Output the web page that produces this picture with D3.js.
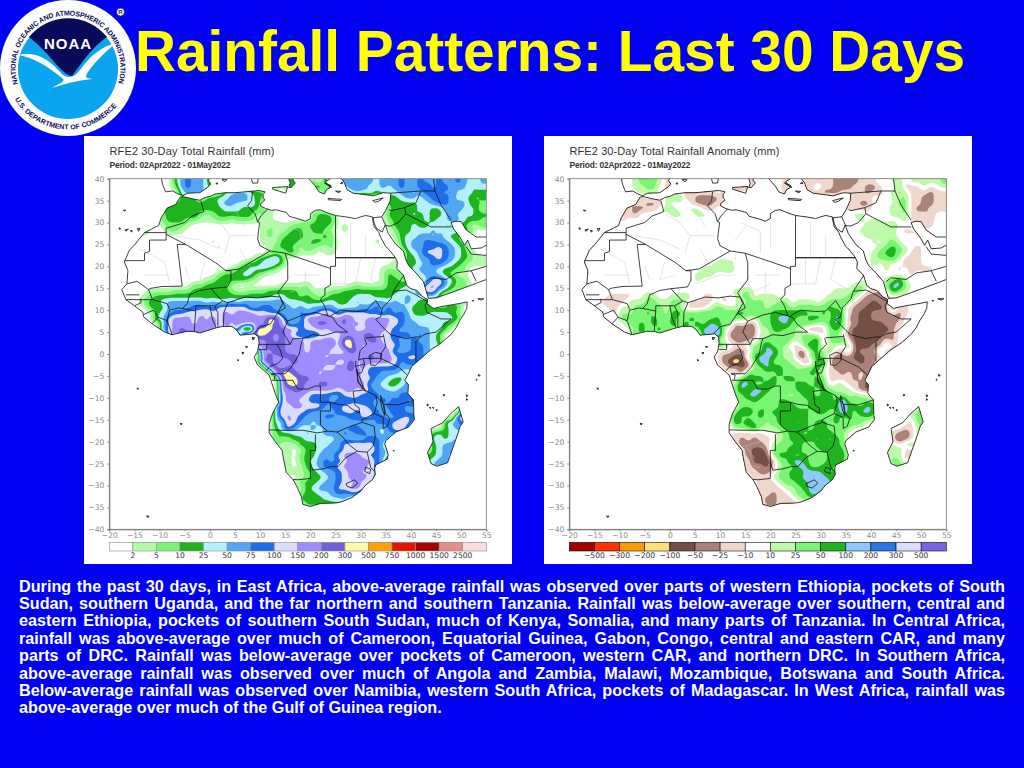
<!DOCTYPE html>
<html>
<head>
<meta charset="utf-8">
<script src="https://cdn.jsdelivr.net/npm/d3@7"></script>
<style>
html,body{margin:0;padding:0;background:#0000f5;}
svg{display:block;}
text{font-family:"Liberation Sans",Arial,sans-serif;}
</style>
</head>
<body>
<svg id="page" width="1024" height="768"></svg>
<script>
// tick labels
var lonTicks = [-20,-15,-10,-5,0,5,10,15,20,25,30,35,40,45,50,55];
var latTicks = [40,35,30,25,20,15,10,5,0,-5,-10,-15,-20,-25,-30,-35,-40];

// legends
var rainColors = ["#ffffff","#b4faaa","#78f573","#1eb41e","#b4f0fa","#50a5f5","#1e6eeb","#dcdcff","#a08cff","#7060dc","#fffaaa","#ffa000","#e11400","#a50000","#e68c8c","#ffdcdc"];
var rainLabels = ["2","5","10","25","50","75","100","150","200","300","500","750","1000","1500","2500"];
var anomColors = ["#a50000","#ff3200","#ff9b00","#ffe178","#735046","#aa8278","#f0d7cd","#ffffff","#befaaa","#78f573","#1eb41e","#8cc8fa","#2878eb","#dcdcff","#7864e6"];
var anomLabels = ["-500","-300","-200","-100","-50","-25","-10","10","25","50","100","200","300","500"];

// rainfall class per 1.25 degree cell. north to south, spaces every 5 deg of lon
// . below 2, 1-9 then a are the legend boxes
var rainRows = [
".... .... ..35 6554 .... .... ..2. 33.. 2.44 4555 5545 5565 5655 6556 5445",
".... .... ..25 6554 3... .... ..2. 33.. 34.4 5455 5445 4565 5675 6655 5344",
".... .... ...4 5554 ..44 5543 3... .... ..34 4445 4534 4455 4566 6564 4433",
".... .... ...3 33.2 3445 6543 23.. .... .... .... .... 3345 5456 6654 4323",
".... .... .333 3334 2455 4453 2... .... .... .... .... 3333 3445 6655 5332",
"..3. .... 3324 3233 3344 4333 12.. .... .... .... .... 2333 3443 3556 4431",
".... .... 2333 3421 2333 3331 21.. .... 2332 .... .... 3333 4343 3464 3433",
".... .... 2333 2211 1221 2221 .1.. ..1. 2333 .... .... 2333 3343 4465 4332",
".... .... 1222 1... .... .... 1121 1223 3332 .1.. .... 1333 4334 4333 3113",
"..33 33.. .221 .... .... .... 1211 2331 3321 .1.. .... .233 4445 4544 33..",
".... .... .... .... .... .... 1212 3332 2232 .... ...1 .134 4554 5433",
".... .... .... .... 1... .... 1113 3322 3322 .... ..1. ..34 5566 5543 2...",
".... .... .... .... .1.. .... .123 3213 2112 ..1. ...1 ..24 5566 7654 3...",
".... .... .... .... .... .... .121 3311 1.11 .... .... ...3 4577 7654 32..",
".... .... .... .... .... ...2 3453 .... .... .... .... 1.13 3556 7654 3211",
".... .... .... .... .... .233 4543 .... .... .... .... .123 3456 6543 2111",
".... .... .... .... ...1 3344 432. .... .... .... ...1 2123 4555 4332 2...",
".... .... .... .... .233 3442 1... .... .... .... ...1 3222 3455 4321 1...",
".... .... .... ...1 2333 3321 .... .... ...1 .... ...1 3322 3347 8542 2...",
".... .... .... .223 3331 .... ...1 1112 .... ..12 1111 3334 3478 7532 21..",
".... ..11 1122 2333 3232 1122 2333 3322 1112 2333 3333 3344 4778 4322 21..",
".... .123 3333 3333 3333 3333 3344 3323 2123 3334 4433 3445 4444 3...",
".... .233 4555 5554 5445 4555 5555 4443 3344 3345 4455 4545 4332 3322 1...",
".... ..33 3555 5666 5777 7755 6655 5454 5555 4444 5565 6554 3332 2233",
".... ...3 4566 7778 7787 8887 7665 5565 5787 5777 7665 6565 3334 4432",
".... ...4 4788 8787 8788 8898 8aa7 5558 9888 8987 7888 8765 4445 4443",
".... .... 4788 8788 8787 8878 8a98 5567 8998 8978 7989 7765 5444 433.",
".... .... 5789 8987 8778 7..a aa99 8867 7878 8887 7888 7655 5554 43..",
".... .... .889 9888 8... .aaa a989 8655 5677 7888 9987 7566 5654 3...",
".... .... .... .... .... ...8 8989 8987 8888 7aa7 8997 7655 6554 3...",
".... .... .... .... .... ..99 8999 8887 8788 7aa8 7888 7755 6654 4...",
".... .... .... .... .... .9.. 9899 8887 8887 77a8 8788 8555 6654 3...",
".... .... .... .... .... .... 8989 9988 8878 8878 7a88 8767 7655",
".... .... .... .... .... .9.. 9987 8988 8888 77a7 8888 8756 6655 4...",
".... .... .... .... .... .... .998 9889 8877 88a7 8666 6655 5677",
".... .... .... .... .... .... ..9a a988 8788 8888 7665 5543 5576",
".... .... .... .... .... .... ...9 aa99 8888 8788 7755 4335 5677",
".... .... .... .... .... .... ...8 aa98 8998 8888 8554 3345 5876",
".... 9... .... .... .... .... ...8 8998 8888 7887 8655 4455 5687",
".... .... .... .... .... .... ...7 8887 6665 5777 6665 6566 5666 .... ....",
".... .... .... .... .... .... ...7 8877 5665 6566 5656 5657 7655 .9.. .9..",
".... .... .... .... .... .... ..47 7887 8756 6777 7655 6665 6.99 9... 89..",
".... .... .... .... .... .... ..48 7776 5555 6776 7765 5765 5655 .... 98..",
".... .... .... .... .... .... ..47 8765 5566 5566 7756 5567 6555 ...7 889.",
".... .... ...3 .... .... .... ..44 8755 4554 5555 5466 6787 5... .355 77..",
".... .... .... .... .... .... ..35 7544 5455 5566 5554 6776 .... .345 56..",
".... .... .... .... .... .... .123 3445 4455 5656 6554 5666 ...3 4344 45..",
".... .... .... .... .... .... ..32 2334 4444 5554 5665 6... ...4 4345",
".... .... .... .... .... .... ..21 1133 3445 5778 7765 .... ...3 4555",
".... .... .... .... .... .... ...2 1.13 3455 5777 7865 4... ...3 4555",
".... .... .... .... .... .... ...1 1.23 3555 7888 7665 4... ..33 4544",
".... .... .... .... .... .... ...1 1.23 4565 6788 8865 .... ..34 5544",
".... .... .... .... .... .... .... 1.13 4566 7888 8765 .... ..45 5565",
".... .... .... .... .... .... .... 1112 3455 6788 7865",
".... .... .... .... .... .... .... ..12 3345 6788 8764",
".... .... .... .... .... .... .... .123 3455 6778 7763",
".... .... .... .... .... .... .... ..13 4555 7788 7533",
".... .... .... .... .... .... .... ..23 3445 6566 33..",
".... .... .... .... .... .... .... ..33 2344 4533",
".... .... .... .... .... .... .... ...3 3323 33..",
"",
".... ..9.",
"",
""
];

// anomaly class per cell, same grid
// o orange, y yellow, d b p browns, . near normal, l g k greens, c u blues
var anomRows = [
".... .... ..lg gglp .... .... ..bb pp.. ..pp lppp ppbb bbpp plpl gpll lllg",
".... .... ..ll gg.p p... .... ..pb pp.. ..bp pbpl ppbb bppb bplp gppp lp.l",
".... .... ...l ll.. ..pp ppp. p... .... ..pp pppp bbbp pppb pp.l glpp pbpp",
".... .... ...p ..pl lgpp bbbb .... .... .... .... .... bppp ..pl lgpp bbpp",
".... .... .bpp bbpl ..lp bbbp p... .... .... .... .... ppbb .pl. ggpp bbpp",
".... .... ppbb pp.l l..l lpp. .... .... .... .... .... pppp .l.l lgpb bppp",
".... .... ppb. ..l. ll.. ll.. .... .... .... .... .... .ll. ...l lgpp pb..",
".... .... p... .... .... .... .... .... .... .... .... ..l. l... .lpp pp..",
".... .... .... .... .... .... .... .... .... .... .... ...l lglg ..lp pp..",
".... .... .... .... .... .... .... .... .... .... .... ..ll gl.l .pp.",
".... .... .... .... .... .... .... .... .... .... .... ...l .lgl ...p",
".... .... .... .... .... .... .... .... .... .... .... .... l.lg lp..",
".... .... .... .... .... .... .... .... .... .... .... .... .lgk gl.p",
".... .... .... .... .... .... .... .... .... .... .... .... lgkk glpp",
".... .... .... .... .... .... ..l. .... .... .... .... .... lggk lppp",
".... .... .... .... .... ...l gl.. .... .... .... .... .... l.l. .ppp",
".... .... .... .... .... .lll lg.. .... .... .... .... ...l ..l. p.pp pp..",
".... .... .... .... .... lll. .... .... .... .... .... ...l .... ..pl",
".... .... .... .... ..l. l... .... .... .... .... .... .... ..lg cl..",
".... .... .... .... .... .... .... .... .... .... .... .lgl ..gc cg..",
".... .... .... .... .... .... ..ll g... .... .... ..ll lggp pb.c gl..",
".... ..pp pp.. gl.. llg. lpp. pl.g g.ll l... .... .lll ggpb bbb.",
".... .ppp plll ggll gglp pppl ppl. gggl lgg. lll. lggg gpbb dbbp",
".... ..pp l.gg gggl ggpp pplg gl.g kggl gggl gggg gkgg pbbd ddbc pp..",
".... ...p glgg kggl kkgg gkgg lgkk gggg kkkc kkgg kgcg pbdd bbbp bp..",
".... .... gggg gkgg kggk gggk gkgg llgg kcck ggkk ggck bbdd bbbb b...",
".... .... .ggk gkgg kgkg kgck ggbp bbgg kkcg gkgl lkcg pbdd ddbb p...",
".... .... ..gk ggkg gkgk gccu gpbb bbll kkgg lpbb pgkg bddd dddb",
".... .... ..kg kkg. .... .ccu gbbp bbll gggg lggl pggp bddd ddbb",
".... .... .... .... .... ...l lpbb bpgg ggkl lggc pggc pddd dbpb",
".... .... .... .... .... ...k glpp lggc gglp pgck pllp gddd bbgp",
".... .... .... .... .... .k.. ppbb pggc cgll bbgk lgpp ldbb bgbp",
".... .... .... .... .... .... bbdd lkcc kgll bbgk gpbb bddb bp..",
".... .... .... .... .... .... bdod bgcc gggl lbpc cpdb bbdb b...",
".... .... .... .... .... .... .bpd bggc kkgg lggc lpbb bbbb p...",
".... .... .... .... .... .... ..pb kggg gkgg ggkg lppb pbpb p...",
".... .... .... .... .... .... ...k kkkg kgkk gggk gppp pbpd d...",
".... .... .... .... .... .... ..gc cggk kggg kkgk kpll ppbd d...",
".... k... .... .... .... .... ..gc gcck ggkg kkkg kgll lpbd b...",
".... .... .... .... .... .... ..gg cckg ggll gkkg kkgg lgll bp.. .k.. .k..",
".... .... .... .... .... .... ..gg gkgg lkkg ggkk kkgu gggg g... .... .l..",
".... .... .... .... .... .... ...g gggk lkkk ggkk kkku kkgc k.ck c... gk..",
".... .... .... .... .... .... ..gc cgkg kkkk kkgk kggu kgcc k... ...g gk..",
".... .... .... .... .... .... ..cg ggkg gkkk kkgg ggkg kggk g... ..lg kk..",
".... .... ...b .... .... .... ..cg cggl gkkk gkgk kgkg gkg. .... ..pg gk..",
".... .... .... .... .... .... ..lg gclg lgkk kkgk kggg g... .... .ppl gc..",
".... .... .... .... .... .... ..pp ppp. .lgk kgkk kkgg .... ...p bdpl gc..",
".... .... .... .... .... .... ..pb pbpp .lgk kkkg kckg .... ...p dbpl",
".... .... .... .... .... .... ..pb bbbp lggg kggk ckkg .... ...l plgp",
".... .... .... .... .... .... ...p bddb gggc kggg kgkk .... ...l gppl",
".... .... .... .... .... .... ...p bddd gkkg gkgg gkkc .... ..ll lpp.",
".... .... .... .... .... .... .... pddd bggc ckgg gkkk .... ..lg gpl.",
".... .... .... .... .... .... .... pbbd plgg ccgg kkgk .... ...l ggl.",
".... .... .... .... .... .... .... ppbb pggk gccc kgk.",
".... .... .... .... .... .... .... .ppp lggk kccc ckk.",
".... .... .... .... .... .... .... ..pb plgg kkcc ccg.",
".... .... .... .... .... .... .... ..pp ppll gkcc cc..",
".... .... .... .... .... .... .... ..pp bppl ggcc g...",
".... .... .... .... .... .... .... ..pb bppp lggl",
".... .... .... .... .... .... .... ...b bppp pp..",
"",
".... ..k.",
"",
""
];
var rainKey = ".123456789a";
var anomKey = "rRoydbp.lgkcu";

// land, lon/lat
var africa = [[-5.9,35.8],[-5.3,35.9],[-3,35.3],[-2,35.1],[-1,35.7],[0.1,36],[1,36.5],[3,36.8],[5,36.8],[7,37],[9.8,37.3],[11,37],[10.6,36.4],[10.6,35.6],[11,35.2],[10.1,34.3],[10.1,33.8],[11.1,33.2],[12.3,32.8],[13.2,32.9],[15.2,32.3],[15.8,31.4],[17.5,30.9],[19,30.3],[20,30.9],[20,32],[21,32.8],[22,32.9],[23.2,32.3],[25,31.6],[27,31.3],[29,30.9],[30,31.3],[31,31.6],[32.3,31.3],[32.5,30],[32.7,29],[33.6,27.8],[34,26.6],[35,24.5],[35.6,23.9],[36.9,22],[37.3,21],[37.2,19.5],[38.5,18],[39.2,15.6],[40,14.9],[41.2,14.5],[42.4,13],[43.3,12.5],[43.2,11.5],[44.5,10.4],[46,10.8],[48,11.2],[50,11.6],[51.2,11.9],[51.1,10.4],[50.5,9],[49.8,7.8],[49,6],[48,4.5],[46,2.5],[44,1],[42,-1],[41,-2],[40.2,-2.8],[39.5,-4.5],[38.8,-6],[39.5,-7],[39.4,-9],[40.5,-10.5],[40.6,-14],[40.7,-15],[39.5,-16.7],[37,-17.8],[35,-19.8],[34.8,-20.5],[35.5,-23],[35.3,-24],[33,-25.3],[32.8,-26],[32.9,-27.5],[32.3,-28.7],[31,-29.9],[30,-31.3],[28.2,-32.8],[26,-33.8],[25,-34],[22,-34.1],[20,-34.8],[18.5,-34.3],[18.2,-32.5],[17.2,-30],[16.5,-28.6],[15.2,-27],[14.5,-23],[14.4,-22],[13,-20],[11.8,-18],[11.8,-16],[12.5,-13.5],[13.7,-11],[13,-9],[12.2,-6.2],[11.8,-4.8],[9.5,-2.5],[8.8,-0.7],[9.5,0.5],[9.8,2.5],[9.7,3.9],[8.9,4.6],[7,4.4],[6,4.3],[5.3,5.5],[4.4,6.3],[2.5,6.3],[1,5.9],[-2,4.8],[-3,5.1],[-4.5,5.2],[-7.5,4.4],[-9,5],[-11.5,6.9],[-13.2,8.5],[-13.3,9.5],[-15,11],[-16.7,12.4],[-17.5,14.7],[-16.5,16],[-16.3,19],[-17,21],[-16,23.7],[-14.9,25],[-13,27.7],[-10.2,29.3],[-9.7,31],[-8.5,33.3],[-6.8,34.1],[-5.9,35.8]];
var asia = [[32.5,31.1],[34.2,31.3],[35,32.8],[35.9,35],[36,36.7],[34.5,36.8],[32.5,36.1],[30.5,36.4],[28.5,36.7],[27.3,37.5],[26.8,39],[26.2,40],[26,42],[56,42],[56,26.7],[53,26.7],[51,28.3],[50,30.2],[49,30.3],[48,30],[48.5,28.5],[49.8,26.6],[50.7,24.8],[51.3,26],[52,24],[54,24.2],[56,25.5],[56,18],[55,17],[52,15.7],[48,14],[45,12.8],[43.5,12.7],[43,14.5],[42.5,16.5],[41,18.5],[39.5,20.3],[39,21.5],[38.5,23.5],[37,25],[35.5,27.5],[34.9,29.5],[34.3,27.8],[33.2,28.6],[32.7,29.8],[32.5,31.1]];
var iberia = [[-9.4,38.7],[-8.8,37],[-7.4,37.2],[-6.3,36.5],[-5.4,36.1],[-4.4,36.7],[-2,36.8],[-0.5,38],[0.2,38.8],[-0.3,39.6],[0,40],[1,42],[-10,42],[-9.4,38.7]];
var italy = [[15.7,38],[16.2,38],[17,39],[16.5,39.7],[17,40.5],[18.4,40],[18.5,40.3],[18,42],[14,42],[15,40.2],[15.7,40],[16,39],[15.7,38]];
var balkans = [[19.3,40.4],[20,39.6],[21,38.3],[21.7,37],[22.8,36.5],[23.2,37.5],[24,38],[23,39.3],[24,40],[24,42],[19,42],[19.3,40.4]];
var madagascar = [[49.5,-12],[50.4,-15.5],[49.8,-16.5],[49.4,-18],[47.3,-24.8],[45.2,-25.6],[44,-25],[43.3,-22.5],[44.4,-20],[44,-17],[46.3,-15.7],[48,-13.5],[49.5,-12]];
var islands = [
 [[12.5,38],[15.5,38.2],[15.1,36.7],[12.5,37.6]],
 [[8.2,40.5],[9.7,40.5],[9.5,39],[8.5,39]],
 [[23.5,35.5],[26.2,35.3],[26,35],[23.6,35.2]],
 [[32.4,35],[34.5,35.6],[33.6,34.9],[32.8,34.6]],
 [[25,37.2],[26,37.1],[25.6,36.8]],[[26.2,39.2],[26.5,39],[26,38.9]],[[22.8,39],[24,38.5],[24.2,38]],
 [[1.2,39],[1.6,39],[1.4,38.7]],[[2.4,39.8],[3.4,39.8],[3,39.3]],[[-18.1,28.8],[-17.8,28.7],[-17.9,28.4]],
 [[-16.9,28.3],[-16.2,28.5],[-16.7,28]],[[-15.8,28.2],[-15.4,28.1],[-15.6,27.8]],[[-14.4,28.6],[-13.9,28.7],[-14.2,28]],
 [[-17.2,32.8],[-16.7,32.8],[-16.9,32.6]],[[8.4,3.8],[8.9,3.7],[8.6,3.2]],[[7.1,1.7],[7.5,1.7],[7.3,1.4]],[[6.4,0.4],[6.8,0.3],[6.5,0]],
 [[5.5,-1.3],[5.8,-1.4],[5.6,-1.6]],[[-14.5,-7.8],[-14.2,-7.8],[-14.3,-8.1]],[[-5.9,-15.8],[-5.5,-15.9],[-5.7,-16.2]],
 [[-12.6,-37],[-12.1,-37],[-12.3,-37.3]],[[43.2,-11.4],[43.5,-11.6],[43.3,-11.9]],[[43.7,-12.2],[44,-12.3],[43.8,-12.4]],
 [[44.3,-12.2],[44.6,-12.3],[44.4,-12.4]],[[45,-12.7],[45.3,-12.8],[45.1,-13]],[[46.4,-9.3],[46.8,-9.3],[46.5,-9.6]],
 [[51,-9.3],[51.3,-9.5],[51.1,-9.8]],[[51,-10.2],[51.3,-10.4],[51.1,-10.6]],[[53,-5.7],[53.2,-5.9],[53,-6]],[[53.5,-4.6],[53.8,-5],[53.4,-5]],
 [[53.3,12.6],[54.5,12.6],[54,12.3]],[[52.2,12.2],[52.5,12.2],[52.3,12]],
 [[36.5,-22],[36.7,-22],[36.6,-22.2]]
];

// country borders, black
var borders = [
 [[-1.8,35],[-1.2,32.5],[-3.5,31.5],[-5,30],[-8.7,28.7],[-8.7,27.3]],
 [[-13,27.7],[-8.7,27.7]],
 [[-8.7,27.3],[-8.7,26],[-12,26],[-12,23.4],[-13,23],[-13,21.3],[-17,21.3]],
 [[-8.7,27.3],[-4.8,25],[-6.5,25],[-5.5,15.5],[-9.5,15.4],[-11.7,15],[-12.2,14.7],[-11.4,12.4]],
 [[-16.5,16],[-14.5,16.6],[-12.2,14.7]],
 [[-4.8,25],[1.2,20.8],[3.2,19],[4.2,19],[4.2,16.8],[3.5,15.3],[0.2,14.9]],
 [[3.2,19],[5.8,19.4],[12,23.5]],
 [[12,23.5],[10,24.7],[9.5,26.3],[9.9,30],[9.5,30.2],[10.3,31.7],[11.5,33.1]],
 [[8.5,37],[8.3,35],[7.5,33.8],[9,32],[9.5,30.2]],
 [[12,23.5],[15,23],[24,19.5],[24,20],[25,20],[25,31.6]],
 [[25,22],[36.9,22]],[[25,21.95],[36.9,21.95]],
 [[15,23],[15.5,20.9],[15.5,16.9],[13.5,14],[14,13]],
 [[24,19.5],[24,15.7],[22.9,15],[22.9,13.5],[22,12.5],[22.8,11],[23.5,8.7]],
 [[14,13],[14.5,12],[15,10.5],[13.5,9.5],[15.5,7.5],[18.5,8.9],[21,9.5],[23.5,8.7],[24.5,8.3],[25.3,6.8],[27.4,5]],
 [[27.4,5],[25,5],[22.5,4.2],[20.5,4.4],[18.5,3.5],[16.5,3.5],[16,2.2],[15,4.2],[14.5,5],[15.5,7.5]],
 [[14,13],[14.5,11.5],[13.3,9],[12,6.8],[10,6.2],[8.7,4.6]],
 [[14,13],[12,13.2],[9.6,12.8],[7,13],[3.6,11.7],[2.4,12.2],[2.4,11.9]],
 [[3.6,11.7],[2.8,9.5],[2.7,6.3]],[[0.9,11],[1.6,9.4],[1.6,6.2]],[[2.4,12.2],[0.2,14.9]],
 [[-5.4,10.4],[-4.5,11.5],[-4,13.5],[-2,14.5],[0.2,14.9]],
 [[2.4,11.9],[0.9,11],[-2.8,11],[-2.8,9.8],[-5.4,10.4]],
 [[0,11],[0.5,8],[1.2,6.1]],[[-2.8,9.8],[-3,7],[-3.1,5.1]],
 [[-7.5,4.4],[-8.5,7.6],[-8,10],[-6.2,10.5],[-5.4,10.4]],
 [[-11.4,12.4],[-8.5,11.5],[-8,10.2]],[[-11.5,6.9],[-10.3,8.4],[-8.5,7.6]],[[-13.2,9],[-11.2,10],[-10.3,8.4]],
 [[-16.7,12.4],[-11.4,12.4]],[[-13.7,12.6],[-13.7,11.7],[-15,11]],[[-16.7,13.5],[-14,13.5]],
 [[38.6,18],[36.5,14.3],[36,12.5],[34.3,10.5],[34,8.5],[33,7.9],[35,5.4],[36,4.4],[39,3.5],[41,3.9],[41.9,3.9]],
 [[24,8.7],[26,10],[29,9.7],[31,9.8],[33,12.2],[34,10.3]],
 [[36.5,14.3],[39,14.6],[41,13.5],[42.4,12.5],[43.3,12],[42.8,11],[43.2,9.5],[46,8],[48,8],[45,5],[43,4.6],[41.9,3.9]],
 [[41.9,3.9],[41,2.8],[41,-1.7]],[[34.5,4.5],[35,1.7],[34,0],[34,-1]],[[34,-1],[37.6,-3],[39.2,-4.7]],
 [[34.5,4],[31,3.7],[30.8,3.5],[31.2,2.2],[29.9,0.8],[29.6,-1.4]],[[30.5,-1],[34,-1]],
 [[29.6,-1.4],[30.5,-1],[30.8,-2.3],[29,-2.8],[29,-1.6]],[[30.8,-2.3],[30.2,-4.3],[29.4,-4.4]],
 [[29,-2.8],[29.4,-4.4],[29.4,-6],[30.7,-8.2],[28.5,-8.5],[28.9,-11.7],[29.7,-12.3],[29.8,-13.5],[28.5,-12.7],[27.3,-11.7],[25.5,-11.5],[24,-11],[22,-11],[22,-7.3],[21,-7.3],[19.5,-8],[17.5,-8],[16.5,-6],[12.3,-6]],
 [[12.2,-4.5],[13,-4.8],[12.8,-5.9]],
 [[12.2,-4.5],[13,-4.5],[15,-4.5],[16.2,-3],[17.8,0],[18.2,2.5],[18.5,3.5]],
 [[9.8,2.2],[13.3,2.2],[16,2.2]],[[13.3,2.2],[13.9,1.2],[14.5,-1],[13.5,-2.2],[12,-2.8],[11.2,-3.8]],
 [[9.8,1],[11.3,1],[11.3,2.2]],
 [[24,-11],[24,-13],[22,-13],[22,-16.2],[23.4,-17.6],[25.3,-17.8]],
 [[30.7,-8.2],[33,-9.5],[34.6,-11.5],[37.5,-11.6],[40.5,-10.5]],
 [[33,-9.5],[33.3,-11],[32.7,-13.6],[34.5,-14.5],[34.5,-17],[35.3,-16.5],[35.8,-14.7],[34.9,-13.5],[34.6,-11.5]],
 [[32.7,-13.6],[30.3,-15],[30.3,-15.6],[28,-16.5],[25.3,-17.8]],
 [[11.8,-17.3],[14,-17.4],[18.5,-17.4],[21.4,-18],[23.4,-17.6]],
 [[21,-18.3],[21,-22],[20,-22],[20,-28.4],[17.5,-28.7],[16.5,-28.6]],
 [[20,-24.8],[20.5,-26.5],[22.5,-26.2],[24,-25.7],[25.5,-25.7],[27,-23.7],[29.3,-22.2]],
 [[25.3,-17.8],[26.5,-19],[27.5,-20.5],[29.3,-22.2],[31.3,-22.4],[32.5,-21],[32.9,-19],[32.7,-16.5],[30.3,-15.6]],
 [[31.3,-22.4],[32,-25.9],[32.8,-26.8]],
 [[31,-25.8],[32,-26.3],[31.8,-27.3],[30.8,-26.8],[31,-25.8]],
 [[27.1,-29.6],[28.8,-28.7],[29.4,-29.5],[28.3,-30.6],[27.3,-30.2],[27.1,-29.6]],
 [[31.8,-0.3],[33,0.4],[34.2,0],[34,-1.5],[33,-2.6],[32,-2.5],[31.8,-0.3]],
 [[29.2,-3.5],[29.7,-5],[30.5,-7.5],[31,-8.5],[30.5,-8],[29.5,-6.5],[29.2,-3.5]],
 [[34,-9.5],[34.6,-12],[34.8,-14],[34.4,-13],[34,-11],[34,-9.5]],
 [[34.9,29.5],[34.2,31.3]],[[35,29.3],[36,29.2],[37.5,30],[39,32],[38.8,33.4],[36,32.7],[35.6,33]],
 [[39,32],[44,29],[46.5,29],[48,29]],[[36,36.7],[42,37.2],[44.8,37.2],[44.5,40]],[[42,37.2],[41,34.5],[38.8,33.4]],
 [[44.8,37.2],[46,34],[48,30.5]],[[43,16.5],[44,17.4],[47,17],[49,18.5],[52,19],[53,16.6]],
 [[52,19],[55,20],[56,22]],[[51,24.5],[52,22.8],[55,22.5],[56,24]]
];

// thin grey province lines over the Sahara and Sudan
var provinces = [
 [[-1,32],[2,30],[4,27],[3,23]],[[-8.7,27.3],[-2,26],[2,24]],[[9,27],[4,27]],[[5,33],[7,29]],[[14,30],[18,28],[18,23]],
 [[20,30],[20,24]],[[-4,17],[-5,20]],[[27,16],[27,22]],[[30,22],[29,16],[24,16]],[[-13,18],[-8,18]],[[5,16],[10,18],[13,18]],
 [[17,18],[22,18]],[[19,14],[19,19]],[[28,22],[28,30]],[[31,22],[31,27]],[[-14,24],[-9,21],[-8,16]],[[1,18],[-2,17],[-1,21]],
 [[13,26],[15,29]],[[33,22],[32,17],[35,15]],[[16,14],[20,16]],[[16,18],[14,15]],[[6,24],[8,20]],[[17,-24],[15,-21],[18,-20]],[[15,-25],[18,-26]]
];

var bodyLines = [
"During the past 30 days, in East Africa, above-average rainfall was observed over parts of western Ethiopia, pockets of South",
"Sudan, southern Uganda, and the far northern and southern Tanzania. Rainfall was below-average over southern, central and",
"eastern Ethiopia, pockets of southern South Sudan, much of Kenya, Somalia, and many parts of Tanzania. In Central Africa,",
"rainfall was above-average over much of Cameroon, Equatorial Guinea, Gabon, Congo, central and eastern CAR, and many",
"parts of DRC. Rainfall was below-average over pockets of Cameroon, western CAR, and northern DRC. In Southern Africa,",
"above-average rainfall was observed over much of Angola and Zambia, Malawi, Mozambique, Botswana and South Africa.",
"Below-average rainfall was observed over Namibia, western South Africa, pockets of Madagascar. In West Africa, rainfall was",
"above-average over much of the Gulf of Guinea region."
];

var svg = d3.select("#page");
svg.append("rect").attr("width",1024).attr("height",768).attr("fill","#0000f5");

svg.append("text").attr("x",550).attr("y",71).attr("text-anchor","middle")
  .attr("font-size",56.8).attr("font-weight","bold").attr("fill","#ffff00")
  .text("Rainfall Patterns: Last 30 Days");

drawLogo();

drawPanel({id:"rain",x:84,title:"RFE2 30-Day Total Rainfall (mm)",titleWidth:165,rows:rainRows,
  key:rainKey,colors:rainColors,labels:rainLabels,barStroke:"#8a8a8a"});
drawPanel({id:"anom",x:544,title:"RFE2 30-Day Total Rainfall Anomaly (mm)",titleWidth:210,rows:anomRows,
  key:anomKey,colors:anomColors,labels:anomLabels,barStroke:"#111"});

function drawPanel(p){
  var g = svg.append("g").attr("transform","translate("+p.x+",136)");
  g.append("rect").attr("width",428).attr("height",428).attr("fill","#fff");

  g.append("text").attr("x",25.5).attr("y",18.5).attr("font-size",11).attr("fill","#333")
    .attr("textLength",p.titleWidth).text(p.title);
  g.append("text").attr("x",25.5).attr("y",32).attr("font-size",8.4).attr("font-weight","bold").attr("fill","#333")
    .attr("textLength",121).text("Period: 02Apr2022 - 01May2022");

  var x = d3.scaleLinear().domain([-20,55]).range([25.3,402.3]);
  var y = d3.scaleLinear().domain([40,-40]).range([42.7,393.3]);

  var line = d3.line().x(function(d){return x(d[0]);}).y(function(d){return y(d[1]);});
  var land = [africa,asia,iberia,italy,balkans,madagascar].concat(islands);

  var defs = g.append("defs");
  defs.append("clipPath").attr("id",p.id+"Land").selectAll("path").data(land).join("path")
    .attr("d",function(d){return line(d)+"Z";});
  defs.append("clipPath").attr("id",p.id+"Plot").append("rect")
    .attr("x",x(-20)).attr("y",y(40)).attr("width",x(55)-x(-20)).attr("height",y(-40)-y(40));

  // grid to numbers, 3 samples a cell and a small blur so the shading is not diamond shaped
  var nx = 60, ny = 64, up = 3;
  var values = new Array(nx*up*ny*up);
  p.rows.forEach(function(r,j){
    var s = r.replace(/ /g,"").padEnd(nx,".");
    for(var i=0;i<nx;i++){
      var v = p.key.indexOf(s[i]);
      for(var a=0;a<up;a++) for(var b=0;b<up;b++) values[(j*up+a)*nx*up+i*up+b] = v;
    }
  });
  d3.blur2({data:values,width:nx*up},0.8);

  var toPlot = d3.geoPath(d3.geoTransform({point:function(gx,gy){
    this.stream.point(x(-20+gx/up*75/nx), y(40-gy/up*80/ny));
  }}));
  var levels = d3.range(p.colors.length).map(function(i){return i-0.5;});
  var contours = d3.contours().size([nx*up,ny*up]).thresholds(levels)(values);

  var plot = g.append("g").attr("clip-path","url(#"+p.id+"Plot)");
  plot.append("g").attr("clip-path","url(#"+p.id+"Land)")
    .selectAll("path").data(contours).join("path")
    .attr("d",toPlot)
    .attr("fill",function(d,i){return p.colors[i];});

  plot.append("g").selectAll("path").data(provinces).join("path")
    .attr("d",line).attr("fill","none").attr("stroke","#c8c8c8").attr("stroke-width",0.5);
  plot.append("g").selectAll("path").data(land).join("path")
    .attr("d",function(d){return line(d)+"Z";}).attr("fill","none").attr("stroke","#111").attr("stroke-width",0.8);
  plot.append("g").selectAll("path").data(borders).join("path")
    .attr("d",line).attr("fill","none").attr("stroke","#111").attr("stroke-width",0.8);

  // axes
  var xAxis = d3.axisBottom(x).tickValues(lonTicks).tickSize(2).tickPadding(1);
  var yAxis = d3.axisLeft(y).tickValues(latTicks).tickSize(2).tickPadding(3);
  [g.append("g").attr("transform","translate(0,"+y(-40)+")").call(xAxis),
   g.append("g").attr("transform","translate("+x(-20)+",0)").call(yAxis)].forEach(function(a){
    a.selectAll("text").attr("font-size",7.6).attr("fill","#8a8a8a").style("font-family","DejaVu Sans");
    a.selectAll("line").attr("stroke","#8a8a8a");
    a.select(".domain").attr("stroke","#777");
  });
  g.append("rect").attr("x",x(-20)).attr("y",y(40)).attr("width",x(55)-x(-20)).attr("height",y(-40)-y(40))
    .attr("fill","none").attr("stroke","#777").attr("stroke-width",0.8);

  // colour bar
  var band = d3.scaleBand().domain(d3.range(p.colors.length)).range([x(-20),x(55)]);
  g.append("g").selectAll("rect").data(p.colors).join("rect")
    .attr("x",function(d,i){return band(i);}).attr("y",406.3)
    .attr("width",band.bandwidth()).attr("height",8.7)
    .attr("fill",function(d){return d;}).attr("stroke",p.barStroke).attr("stroke-width",0.6);
  g.append("g").selectAll("text").data(p.labels).join("text")
    .attr("x",function(d,i){return band(i)+band.bandwidth();}).attr("y",421.5)
    .attr("text-anchor","middle").attr("font-size",7.6).attr("fill","#333")
    .style("font-family","DejaVu Sans")
    .text(function(d){return d.replace("-","\u2212");});
}

// body text, justified line by line
var bodyGroup = svg.append("g");
bodyLines.forEach(function(t,i){
  var el = bodyGroup.append("text").attr("x",19).attr("y",591.5+i*17.4)
    .attr("font-size",16.2).attr("font-weight","bold").attr("fill","#fff").text(t);
  if(i<bodyLines.length-1){
    var gaps = t.split(" ").length-1;
    var extra = (986-el.node().getComputedTextLength())/gaps;
    el.attr("word-spacing",extra);
  }
});

function drawLogo(){
  var g = svg.append("g");
  var cx = 68, cy = 68;
  g.append("circle").attr("cx",cx).attr("cy",cy).attr("r",68).attr("fill","#fff");
  g.append("circle").attr("cx",cx).attr("cy",cy+1).attr("r",50).attr("fill","#0aa5ee");
  g.append("path").attr("fill","#0a0a5a")
    .attr("d","M29,37 A50,50 0 0 1 107,37 C95,45 85,58 72,76 C60,74 52,55 29,37Z");
  g.append("path").attr("fill","#fff")
    .attr("d","M18,55 C35,50 50,60 60,72 C66,79 74,79 80,70 C90,56 102,46 116,43 C105,52 95,62 88,72 C82,80 92,78 92,79 C82,80 70,82 52,88 C62,82 66,81 62,78 C48,66 32,57 18,55Z");
  g.append("text").attr("x",cx).attr("y",49).attr("text-anchor","middle").attr("font-size",15)
    .attr("font-weight","bold").attr("fill","#fff").attr("letter-spacing",1).text("NOAA");
  g.append("circle").attr("cx",120.5).attr("cy",12).attr("r",4).attr("fill","#fff").attr("stroke","#223").attr("stroke-width",0.8);
  g.append("text").attr("x",120.5).attr("y",14.3).attr("text-anchor","middle").attr("font-size",6)
    .attr("font-weight","bold").attr("fill","#223").text("R");
  g.append("path").attr("id","logoTop").attr("fill","none")
    .attr("d","M18,84 A52.5,52.5 0 1 1 118,84");
  g.append("path").attr("id","logoBottom").attr("fill","none")
    .attr("d","M12,94 A62,62 0 0 0 124,94");
  g.append("text").attr("font-size",7).attr("font-weight","bold").attr("fill","#0a0a5a")
    .append("textPath").attr("href","#logoTop").attr("textLength",196)
    .text("NATIONAL OCEANIC AND ATMOSPHERIC ADMINISTRATION");
  g.append("text").attr("font-size",7).attr("font-weight","bold").attr("fill","#0a0a5a")
    .append("textPath").attr("href","#logoBottom").attr("startOffset",6).attr("textLength",120)
    .text("U.S. DEPARTMENT OF COMMERCE");
}
</script>
</body>
</html>
